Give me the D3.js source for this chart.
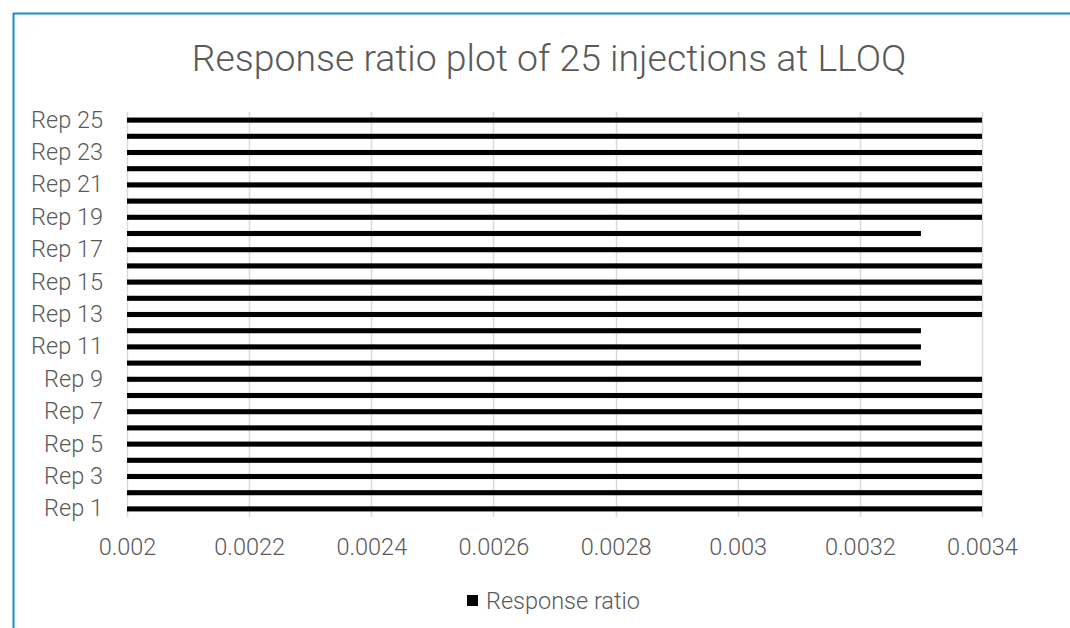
<!DOCTYPE html>
<html>
<head>
<meta charset="utf-8">
<script src="https://cdn.jsdelivr.net/npm/d3@7"></script>
<style>
  html, body { margin: 0; padding: 0; background: #fff; }
  svg { display: block; font-family: Roboto, "Noto Sans", sans-serif; }
</style>
</head>
<body>
<svg id="chart" width="1070" height="628"></svg>
<script>
// Replicate labels and response ratios
const categories = Array.from({length: 25}, (_, i) => "Rep " + (i + 1));
const responseRatio = [
  0.0034, 0.0034, 0.0034, 0.0034, 0.0034, 0.0034, 0.0034, 0.0034, 0.0034, 0.0033,
  0.0033, 0.0033, 0.0034, 0.0034, 0.0034, 0.0034, 0.0034, 0.0033, 0.0034, 0.0034,
  0.0034, 0.0034, 0.0034, 0.0034, 0.0034
];
const xTicks = [0.002, 0.0022, 0.0024, 0.0026, 0.0028, 0.003, 0.0032, 0.0034];
const xTickLabels = ["0.002", "0.0022", "0.0024", "0.0026", "0.0028", "0.003", "0.0032", "0.0034"];
const titleText = "Response ratio plot of 25 injections at LLOQ";
const seriesName = "Response ratio";

const svg = d3.select("#chart");
const textColor = "#595959";
const labelSize = 23.5;

// chart frame (only top and left edges fall inside the view)
svg.append("line").attr("x1", 13).attr("y1", 13.5).attr("x2", 1070).attr("y2", 13.5)
  .attr("stroke", "#1a87d8").attr("stroke-width", 2);
svg.append("line").attr("x1", 13.5).attr("y1", 13).attr("x2", 13.5).attr("y2", 628)
  .attr("stroke", "#1a87d8").attr("stroke-width", 2);

const plot = {left: 127, right: 982, top: 112, bottom: 517};

const x = d3.scaleLinear().domain([0.002, 0.0034]).range([plot.left, plot.right]);
const y = d3.scaleBand().domain(categories.slice().reverse())
  .range([plot.top, plot.bottom]).paddingInner(0.686).paddingOuter(0.343);

// vertical gridlines
svg.append("g").selectAll("line").data(xTicks).join("line")
  .attr("x1", d => Math.round(x(d)) + 0.5).attr("x2", d => Math.round(x(d)) + 0.5)
  .attr("y1", plot.top).attr("y2", plot.bottom)
  .attr("stroke", "#d9d9d9").attr("stroke-width", 1.5);

// bars
svg.append("g").selectAll("rect").data(categories).join("rect")
  .attr("x", x(0.002))
  .attr("y", d => y(d))
  .attr("width", (d, i) => x(responseRatio[i]) - x(0.002))
  .attr("height", y.bandwidth())
  .attr("fill", "#000");

// y axis labels (every other category)
const yAxis = d3.axisLeft(y).tickSize(0).tickPadding(0)
  .tickValues(categories.filter((d, i) => i % 2 === 0));
const gy = svg.append("g").attr("transform", `translate(${plot.left - 24},0)`).call(yAxis);
gy.select(".domain").remove();
gy.selectAll("text").attr("fill", textColor).attr("font-size", labelSize).attr("font-weight", 300)
  .attr("font-family", "Roboto, sans-serif");

// x axis labels
const xAxis = d3.axisBottom(x).tickValues(xTicks).tickSize(0).tickPadding(0)
  .tickFormat((d, i) => xTickLabels[i]);
const gx = svg.append("g").attr("transform", `translate(0,${plot.bottom + 21})`).call(xAxis);
gx.select(".domain").remove();
gx.selectAll("text").attr("fill", textColor).attr("font-size", labelSize).attr("font-weight", 300)
  .attr("font-family", "Roboto, sans-serif");

// title
svg.append("text").attr("x", 549).attr("y", 71).attr("text-anchor", "middle")
  .attr("fill", textColor).attr("font-size", 37.4).attr("font-weight", 300)
  .text(titleText);

// legend
const lg = svg.append("g");
lg.append("rect").attr("x", 467).attr("y", 595).attr("width", 11).attr("height", 11).attr("fill", "#000");
lg.append("text").attr("x", 486).attr("y", 609).attr("fill", textColor)
  .attr("font-size", labelSize).attr("font-weight", 300).text(seriesName);
</script>
</body>
</html>
